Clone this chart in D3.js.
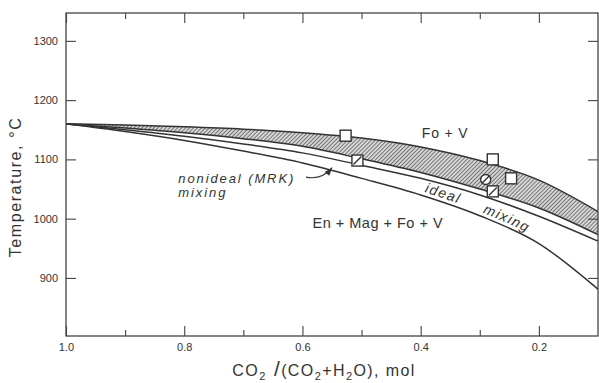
<!DOCTYPE html>
<html>
<head>
<meta charset="utf-8">
<script src="https://cdn.jsdelivr.net/npm/d3@7"></script>
<style>
  body { margin: 0; background: #fff; }
  svg { display: block; font-family: "Liberation Sans", Arial, sans-serif; }
  .axis text { font-size: 11px; fill: #333; }
  .axis line { stroke: #444; stroke-width: 1.1; }
</style>
</head>
<body>
<div id="chart"></div>
<script>
// mole fraction CO2 at which curves are sampled
var xco2 = [1.0, 0.9, 0.8, 0.7, 0.6, 0.5, 0.4, 0.3, 0.2, 0.1];
// temperature (C) of the curves
var bandTop = [1160, 1158, 1155, 1151, 1145, 1136, 1121, 1098, 1065, 1012];
var bandBottom = [1160, 1153, 1145, 1135, 1122, 1101, 1078, 1050, 1018, 973];
var mrkCurve = [1160, 1150, 1139, 1126, 1111, 1090, 1068, 1040, 1004, 962];
var idealCurve = [1160, 1147, 1132, 1114, 1094, 1068, 1040, 1005, 958, 881];

// experimental brackets
var openSquares = [[0.527, 1140], [0.278, 1100], [0.247, 1068]];
var slashSquares = [[0.507, 1098], [0.278, 1046]];
var slashCircles = [[0.29, 1066]];

var xTicks = [1.0, 0.8, 0.6, 0.4, 0.2];
var xMinorTicks = [0.9, 0.7, 0.5, 0.3];
var yTicks = [900, 1000, 1100, 1200, 1300];

var width = 599, height = 383;
var mLeft = 66, mRight = 598, mTop = 13, mBottom = 336;

var svg = d3.select("#chart").append("svg")
    .attr("width", width)
    .attr("height", height);

var x = d3.scaleLinear().domain([1.0, 0.1]).range([mLeft, mRight]);
var y = d3.scaleLinear().domain([802, 1347]).range([mBottom, mTop]);

// hatch pattern for the shaded band
var defs = svg.append("defs");
var pat = defs.append("pattern")
    .attr("id", "hatch")
    .attr("patternUnits", "userSpaceOnUse")
    .attr("width", 2.8).attr("height", 2.8)
    .attr("patternTransform", "rotate(45)");
pat.append("rect").attr("width", 2.8).attr("height", 2.8).attr("fill", "#d6d6d6");
pat.append("line")
    .attr("x1", 0).attr("y1", 0).attr("x2", 0).attr("y2", 2.8)
    .attr("stroke", "#444").attr("stroke-width", 1.3);

function pts(vals) {
    return xco2.map(function (d, i) { return [d, vals[i]]; });
}

var line = d3.line()
    .x(function (d) { return x(d[0]); })
    .y(function (d) { return y(d[1]); })
    .curve(d3.curveMonotoneX);

var band = xco2.map(function (d, i) { return [d, bandBottom[i], bandTop[i]]; });
var area = d3.area()
    .x(function (d) { return x(d[0]); })
    .y0(function (d) { return y(d[1]); })
    .y1(function (d) { return y(d[2]); })
    .curve(d3.curveMonotoneX);

svg.append("path")
    .datum(band)
    .attr("d", area)
    .attr("fill", "url(#hatch)");

[bandTop, bandBottom, mrkCurve, idealCurve].forEach(function (vals) {
    svg.append("path")
        .datum(pts(vals))
        .attr("d", line)
        .attr("fill", "none")
        .attr("stroke", "#333")
        .attr("stroke-width", 1.5);
});

// axes, ticks pointing inward
function styleAxis(g) {
    g.select(".domain").remove();
    g.attr("class", "axis");
}
svg.append("g").attr("transform", "translate(0," + mBottom + ")")
    .call(d3.axisBottom(x).tickValues(xTicks).tickSize(-10).tickPadding(7)
        .tickFormat(d3.format(".1f")))
    .call(styleAxis);
svg.append("g").attr("transform", "translate(0," + mBottom + ")")
    .call(d3.axisBottom(x).tickValues(xMinorTicks).tickSize(-6).tickFormat(""))
    .call(styleAxis);
svg.append("g").attr("transform", "translate(0," + mTop + ")")
    .call(d3.axisTop(x).tickValues(xTicks).tickSize(-10).tickFormat(""))
    .call(styleAxis);
svg.append("g").attr("transform", "translate(0," + mTop + ")")
    .call(d3.axisTop(x).tickValues(xMinorTicks).tickSize(-6).tickFormat(""))
    .call(styleAxis);
svg.append("g").attr("transform", "translate(" + mLeft + ",0)")
    .call(d3.axisLeft(y).tickValues(yTicks).tickSize(-10).tickPadding(8)
        .tickFormat(d3.format("d")))
    .call(styleAxis);
svg.append("g").attr("transform", "translate(" + mRight + ",0)")
    .call(d3.axisRight(y).tickValues(yTicks).tickSize(-10).tickFormat(""))
    .call(styleAxis);

svg.append("rect")
    .attr("x", mLeft).attr("y", mTop)
    .attr("width", mRight - mLeft).attr("height", mBottom - mTop)
    .attr("fill", "none").attr("stroke", "#444").attr("stroke-width", 1.3);

// data points
var sq = 11;
svg.append("g").selectAll("rect")
    .data(openSquares.concat(slashSquares))
    .enter().append("rect")
    .attr("x", function (d) { return x(d[0]) - sq / 2; })
    .attr("y", function (d) { return y(d[1]) - sq / 2; })
    .attr("width", sq).attr("height", sq)
    .attr("fill", "#fff").attr("stroke", "#333").attr("stroke-width", 1.4);
svg.append("g").selectAll("circle")
    .data(slashCircles)
    .enter().append("circle")
    .attr("cx", function (d) { return x(d[0]); })
    .attr("cy", function (d) { return y(d[1]); })
    .attr("r", 5)
    .attr("fill", "#fff").attr("stroke", "#333").attr("stroke-width", 1.4);
svg.append("g").selectAll("line")
    .data(slashSquares.concat(slashCircles))
    .enter().append("line")
    .attr("x1", function (d) { return x(d[0]) - 4; })
    .attr("y1", function (d) { return y(d[1]) + 4; })
    .attr("x2", function (d) { return x(d[0]) + 4; })
    .attr("y2", function (d) { return y(d[1]) - 4; })
    .attr("stroke", "#333").attr("stroke-width", 1.4);

// labels
svg.append("text")
    .attr("x", x(0.398)).attr("y", y(1136))
    .attr("font-size", 14).attr("letter-spacing", 0.8).attr("fill", "#333")
    .text("Fo + V");
svg.append("text")
    .attr("x", x(0.583)).attr("y", y(985))
    .attr("font-size", 14.5).attr("letter-spacing", 0.5).attr("fill", "#333")
    .text("En + Mag + Fo + V");
svg.append("text")
    .attr("x", x(0.81)).attr("y", y(1061))
    .attr("font-size", 13).attr("letter-spacing", 1.9)
    .attr("font-style", "italic").attr("fill", "#333")
    .text("nonideal (MRK)");
svg.append("text")
    .attr("x", x(0.81)).attr("y", y(1037))
    .attr("font-size", 13).attr("letter-spacing", 1.9)
    .attr("font-style", "italic").attr("fill", "#333")
    .text("mixing");

// curved arrow toward the MRK curve
var ax0 = x(0.594), ay0 = y(1070), ax1 = x(0.55), ay1 = y(1086);
var cx = ax0 + 16, cy = ay0 + 3;
svg.append("path")
    .attr("d", "M" + ax0 + "," + ay0 + " Q" + cx + "," + cy + " " + ax1 + "," + ay1)
    .attr("fill", "none").attr("stroke", "#333").attr("stroke-width", 1.2);
var ang = Math.atan2(ay1 - cy, ax1 - cx) * 180 / Math.PI;
svg.append("path")
    .attr("transform", "translate(" + ax1 + "," + ay1 + ") rotate(" + ang + ")")
    .attr("d", "M0,0 L-8,-3 L-8,3 Z")
    .attr("fill", "#333");

// "ideal mixing" written along the ideal curve
var offsetLine = d3.line()
    .x(function (d) { return x(d[0]); })
    .y(function (d) { return y(d[1]) - 4; })
    .curve(d3.curveMonotoneX);
defs.append("path").attr("id", "idealPath").attr("d", offsetLine(pts(idealCurve)));
svg.append("text")
    .attr("font-size", 14).attr("letter-spacing", 1.4)
    .attr("font-style", "italic").attr("fill", "#333")
    .append("textPath").attr("href", "#idealPath").attr("startOffset", 366).text("ideal");
svg.append("text")
    .attr("font-size", 14).attr("letter-spacing", 1.4)
    .attr("font-style", "italic").attr("fill", "#333")
    .append("textPath").attr("href", "#idealPath").attr("startOffset", 428).text("mixing");

// axis titles
svg.append("text")
    .attr("transform", "translate(21,187) rotate(-90)")
    .attr("text-anchor", "middle")
    .attr("font-size", 16).attr("letter-spacing", 1.6).attr("fill", "#333")
    .text("Temperature, \u00B0C");

var xl = svg.append("text")
    .attr("x", 324).attr("y", 376)
    .attr("text-anchor", "middle")
    .attr("font-size", 16).attr("letter-spacing", 1.4).attr("fill", "#333");
xl.append("tspan").text("CO");
xl.append("tspan").attr("font-size", 11).attr("dy", 4).text("2");
xl.append("tspan").attr("dy", -4).attr("font-size", 21).text(" /");
xl.append("tspan").text("(CO");
xl.append("tspan").attr("font-size", 11).attr("dy", 4).text("2");
xl.append("tspan").attr("dy", -4).text("+H");
xl.append("tspan").attr("font-size", 11).attr("dy", 4).text("2");
xl.append("tspan").attr("dy", -4).text("O), mol");
</script>
</body>
</html>
